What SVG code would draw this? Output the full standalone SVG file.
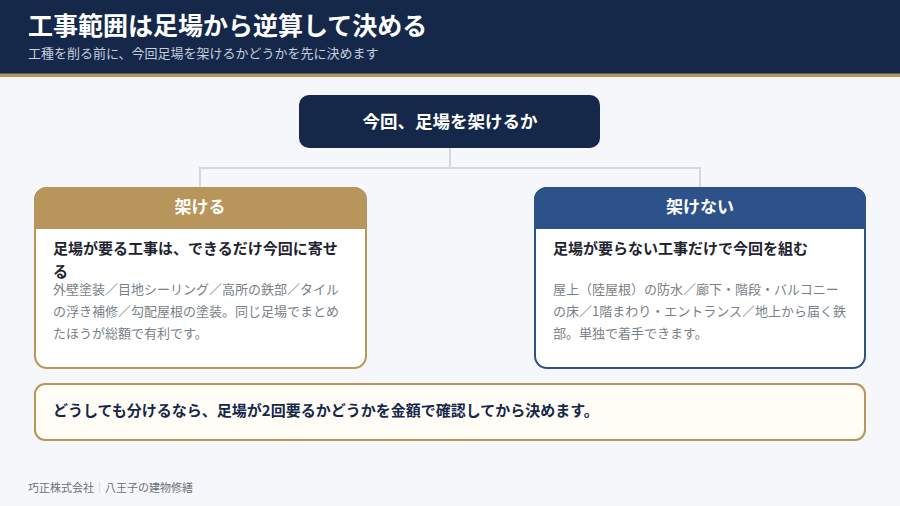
<svg xmlns="http://www.w3.org/2000/svg" width="900" height="506" viewBox="0 0 900 506">
<style>
text{font-family:"Noto Sans CJK JP","Noto Sans",sans-serif}
.title{font-size:25px;font-weight:700;fill:#ffffff}
.sub{font-size:13px;fill:#c5cede}
.hd{font-size:17px;font-weight:700;fill:#ffffff}
.ct{font-size:15px;font-weight:700;fill:#1f2430}
.cb{font-size:13px;fill:#7a7f88}
.conn{stroke:#d3d8e0;stroke-width:2;fill:none}
.foot{font-size:11px;fill:#6a6f78}
</style>
<rect x="0" y="0" width="900" height="506" fill="#f5f7fb"/>
<g id="header">
<rect x="0" y="0" width="900" height="74" fill="#16284a"/>
<rect x="0" y="73.5" width="900" height="3.5" fill="#b8955a"/>
<text class="title" x="28" y="35">工事範囲は足場から逆算して決める</text>
<text class="sub" x="28" y="58">工種を削る前に、今回足場を架けるかどうかを先に決めます</text>
</g>
<g id="connectors">
<path class="conn" d="M450 148 V168 M200 187 V168 H700 V187"/>
</g>
<g id="root">
<rect x="299" y="95" width="301" height="53" rx="10" fill="#16284a"/>
<text x="450" y="128" text-anchor="middle" style="font-size:17.5px;font-weight:700;fill:#fff">今回、足場を架けるか</text>
</g>
<g id="left">
<rect x="35" y="188" width="331" height="180" rx="12" fill="#ffffff" stroke="#b8955a" stroke-width="2"/>
<path d="M35 228 V200 A12 12 0 0 1 47 188 H354 A12 12 0 0 1 366 200 V228 Z" fill="#b8955a" stroke="#b8955a" stroke-width="2"/>
<text class="hd" x="200" y="213" text-anchor="middle">架ける</text>
<text class="ct" x="53" y="254">足場が要る工事は、できるだけ今回に寄せ</text>
<text class="ct" x="53" y="277">る</text>
<text class="cb" x="53" y="294">外壁塗装／目地シーリング／高所の鉄部／タイル</text>
<text class="cb" x="53" y="316">の浮き補修／勾配屋根の塗装。同じ足場でまとめ</text>
<text class="cb" x="53" y="338">たほうが総額で有利です。</text>
</g>
<g id="right">
<rect x="535" y="188" width="330" height="180" rx="12" fill="#ffffff" stroke="#2c5289" stroke-width="2"/>
<path d="M535 228 V200 A12 12 0 0 1 547 188 H853 A12 12 0 0 1 865 200 V228 Z" fill="#2c5289" stroke="#2c5289" stroke-width="2"/>
<text class="hd" x="700" y="213" text-anchor="middle">架けない</text>
<text class="ct" x="553" y="254">足場が要らない工事だけで今回を組む</text>
<text class="cb" x="553" y="294">屋上（陸屋根）の防水／廊下・階段・バルコニー</text>
<text class="cb" x="553" y="316">の床／1階まわり・エントランス／地上から届く鉄</text>
<text class="cb" x="553" y="338">部。単独で着手できます。</text>
</g>
<g id="note">
<rect x="35" y="384" width="830" height="56" rx="10" fill="#fffdf6" stroke="#b8955a" stroke-width="2"/>
<text x="53" y="416" style="font-size:15px;font-weight:700;fill:#16284a">どうしても分けるなら、足場が2回要るかどうかを金額で確認してから決めます。</text>
</g>
<g id="footer">
<text class="foot" x="28" y="492">巧正株式会社<tspan fill="#c0c4cc">｜</tspan>八王子の建物修繕</text>
</g>
</svg>
